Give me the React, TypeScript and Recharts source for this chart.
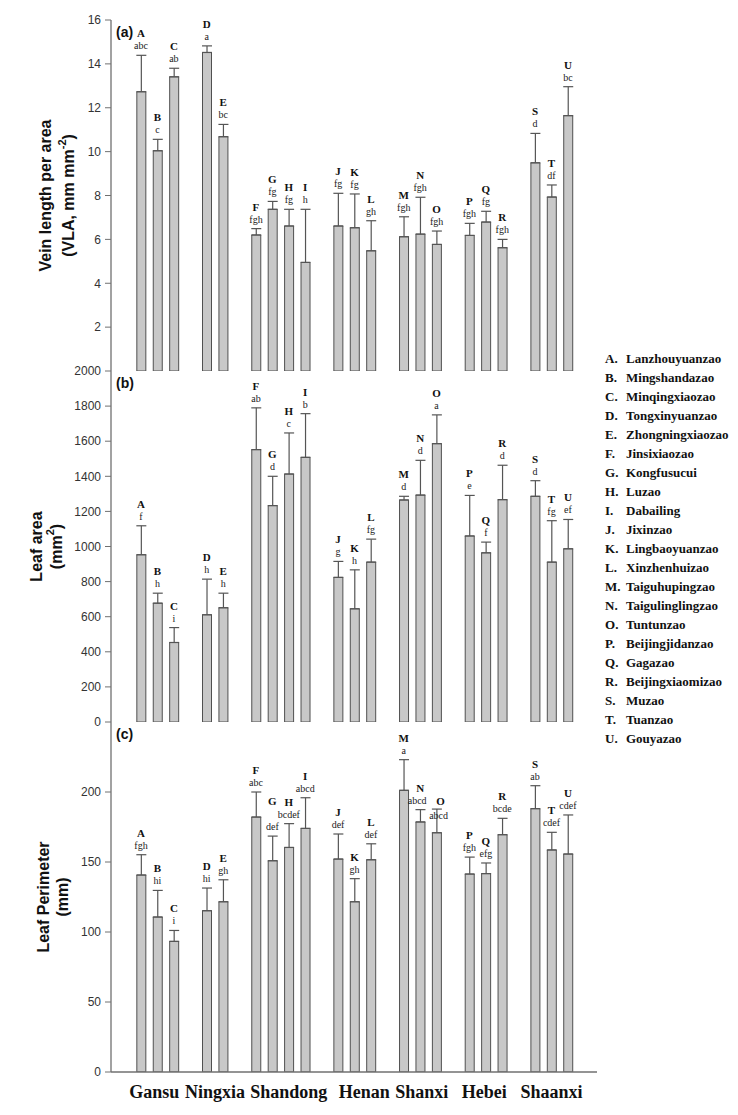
import React from 'react';
import { ComposedChart, Bar, ErrorBar, Scatter, XAxis, YAxis } from 'recharts';

// ---------- data ----------
const letters = ['A','B','C','D','E','F','G','H','I','J','K','L','M','N','O','P','Q','R','S','T','U'];
const cultivars = ['Lanzhouyuanzao','Mingshandazao','Minqingxiaozao','Tongxinyuanzao','Zhongningxiaozao','Jinsixiaozao','Kongfusucui','Luzao','Dabailing','Jixinzao','Lingbaoyuanzao','Xinzhenhuizao','Taiguhupingzao','Taigulinglingzao','Tuntunzao','Beijingjidanzao','Gagazao','Beijingxiaomizao','Muzao','Tuanzao','Gouyazao'];
const provinces = ['Gansu','Ningxia','Shandong','Henan','Shanxi','Hebei','Shaanxi'];
const groupSizes = [3, 2, 4, 3, 3, 3, 3];

const vla = [12.73, 10.04, 13.41, 14.52, 10.68, 6.20, 7.37, 6.61, 4.95, 6.61, 6.53, 5.48, 6.12, 6.24, 5.77, 6.18, 6.79, 5.62, 9.49, 7.93, 11.64];
const vlaErr = [1.66, 0.52, 0.39, 0.30, 0.56, 0.29, 0.36, 0.76, 2.42, 1.49, 1.54, 1.37, 0.91, 1.68, 0.61, 0.55, 0.49, 0.38, 1.34, 0.55, 1.32];
const vlaSig = ['abc','c','ab','a','bc','fgh','fg','fg','h','fg','fg','gh','fgh','fgh','fgh','fgh','fg','fgh','d','df','bc'];

const area = [953, 677, 453, 611, 651, 1552, 1233, 1413, 1508, 824, 645, 911, 1265, 1293, 1586, 1060, 964, 1267, 1286, 911, 987];
const areaErr = [165, 57, 85, 203, 83, 238, 167, 234, 249, 91, 222, 131, 21, 198, 164, 231, 61, 196, 89, 236, 167];
const areaSig = ['f','h','i','h','h','ab','d','c','b','g','h','fg','d','d','a','e','f','d','d','fg','ef'];

const perim = [140.7, 110.7, 93.3, 115.2, 121.6, 182.1, 150.9, 160.4, 174.0, 152.1, 121.6, 151.6, 201.2, 178.6, 170.9, 141.4, 141.7, 169.5, 188.1, 158.6, 155.7];
const perimErr = [14.5, 19.0, 7.8, 16.2, 15.7, 17.9, 17.6, 17.0, 21.9, 17.9, 16.5, 11.4, 21.9, 8.8, 16.9, 12.1, 7.6, 11.7, 16.4, 12.6, 27.9];
const perimSig = ['fgh','hi','i','hi','gh','abc','def','bcdef','abcd','def','gh','def','a','abcd','abcd','fgh','efg','bcde','ab','cdef','cdef'];

const vlaTicks = [2, 4, 6, 8, 10, 12, 14, 16];
const areaTicks = [0, 200, 400, 600, 800, 1000, 1200, 1400, 1600, 1800, 2000];
const perimTicks = [0, 50, 100, 150, 200];

// ---------- layout / style ----------
const SANS = '"Liberation Sans", Arial, sans-serif';
const SERIF = '"Liberation Serif", "Times New Roman", serif';
const AXIS = '#707070';
const X_DOMAIN = [-1.83, 27.77];
const labelNudge = [-0.2, 0, 0.5, 0.6, 0.1, -0.1, 0];

type Nudge = { ldx?: number; ldy?: number; sdx?: number; sdy?: number };
const perimLabelNudges: Record<string, Nudge> = {
  G: { ldy: -13 },
  N: { sdx: -3 },
  O: { ldx: 4, ldy: 14, sdx: 2, sdy: 16 },
};

// slot index of each bar: groups separated by one empty slot
const slotX: number[] = [];
{
  let s = 0;
  groupSizes.forEach((n) => {
    for (let i = 0; i < n; i++) slotX.push(s + i);
    s += n + 1;
  });
}
const groupTicks: number[] = [];
{
  let idx = 0;
  groupSizes.forEach((n, g) => {
    groupTicks.push((slotX[idx] + slotX[idx + n - 1]) / 2 + labelNudge[g]);
    idx += n;
  });
}

function buildRows(vals: number[], errs: number[], sigs: string[]) {
  return letters.map((l, i) => ({
    x: slotX[i],
    v: vals[i],
    err: [0, errs[i]],
    top: vals[i] + errs[i],
    letter: l,
    sig: sigs[i],
  }));
}

type Seg = { t: string; sup?: boolean };

const makeLabelShape = (nudges: Record<string, Nudge>) => (props: any) => {
  const { cx, cy, payload } = props;
  if (cx == null || cy == null) return <g />;
  const n = nudges[payload.letter] || {};
  return (
    <g>
      <text x={cx + (n.ldx || 0)} y={cy - 18 + (n.ldy || 0)} textAnchor="middle" fontFamily={SERIF} fontWeight="bold" fontSize={11} fill="#111">
        {payload.letter}
      </text>
      <text x={cx + (n.sdx || 0)} y={cy - 6 + (n.sdy || 0)} textAnchor="middle" fontFamily={SERIF} fontSize={10} fill="#222">
        {payload.sig}
      </text>
    </g>
  );
};

const GroupTick = (props: any) => {
  const { x, y, index } = props;
  return (
    <text x={x} y={y + 26} textAnchor="middle" fontFamily={SERIF} fontWeight="bold" fontSize={18} fill="#111">
      {provinces[index]}
    </text>
  );
};

function makeTitle(lines: Seg[][], xs: number[], tag: string) {
  return (props: any) => {
    const vb = props.viewBox || { x: 0, y: 0, width: 111, height: 350 };
    const cy = vb.y + vb.height / 2;
    return (
      <g>
        {lines.map((segs, i) => (
          <text
            key={i}
            x={xs[i]}
            y={cy}
            transform={`rotate(-90 ${xs[i]} ${cy})`}
            textAnchor="middle"
            dominantBaseline="central"
            fontFamily={SANS}
            fontWeight="bold"
            fontSize={16}
            fill="#111"
          >
            {segs.map((s, j) =>
              s.sup ? (
                <tspan key={j} dy={-6} fontSize={11}>{s.t}</tspan>
              ) : (
                <tspan key={j} dy={j > 0 && segs[j - 1].sup ? 6 : 0}>{s.t}</tspan>
              )
            )}
          </text>
        ))}
        <text x={vb.x + vb.width + 5} y={vb.y + 17} fontFamily={SANS} fontWeight="bold" fontSize={14} fill="#111">
          {tag}
        </text>
      </g>
    );
  };
}

type PanelProps = {
  rows: any[];
  yDomain: number[];
  yTicks: number[];
  title: Seg[][];
  titleX: number[];
  tag: string;
  top: number;
  marginTop: number;
  plotH: number;
  bottomSpace: number;
  showGroups: boolean;
  nudges?: Record<string, Nudge>;
};

function Panel(p: PanelProps) {
  const height = p.marginTop + p.plotH + p.bottomSpace;
  const shape = makeLabelShape(p.nudges || {});
  return (
    <div style={{ position: 'absolute', left: 0, top: p.top }}>
      <ComposedChart
        width={738}
        height={height}
        data={p.rows}
        margin={{ top: p.marginTop, right: 141, bottom: p.showGroups ? 0 : p.bottomSpace, left: 0 }}
      >
        <XAxis
          type="number"
          dataKey="x"
          domain={X_DOMAIN}
          allowDataOverflow
          ticks={p.showGroups ? groupTicks : []}
          interval={0}
          tick={p.showGroups ? <GroupTick /> : false}
          tickLine={false}
          tickSize={0}
          tickMargin={0}
          height={p.showGroups ? p.bottomSpace : 0}
          axisLine={{ stroke: AXIS, strokeWidth: 1.3 }}
        />
        <XAxis
          xAxisId="top"
          orientation="top"
          type="number"
          domain={X_DOMAIN}
          allowDataOverflow
          tick={false}
          tickLine={false}
          height={0}
          axisLine={{ stroke: AXIS, strokeWidth: 1.3 }}
        />
        <YAxis
          type="number"
          domain={p.yDomain}
          ticks={p.yTicks}
          interval={0}
          allowDataOverflow
          width={111}
          tickSize={6}
          tickMargin={4}
          tick={{ fontFamily: SANS, fontSize: 12, fill: '#333' }}
          tickLine={{ stroke: AXIS }}
          axisLine={{ stroke: AXIS, strokeWidth: 1.3 }}
          label={{ content: makeTitle(p.title, p.titleX, p.tag) }}
        />
        <YAxis
          yAxisId="right"
          orientation="right"
          type="number"
          domain={p.yDomain}
          allowDataOverflow
          tick={false}
          tickLine={false}
          width={0}
          axisLine={{ stroke: AXIS, strokeWidth: 1.3 }}
        />
        <Bar dataKey="v" barSize={9} fill="#c8c8c8" stroke="#505050" strokeWidth={1} isAnimationActive={false}>
          <ErrorBar dataKey="err" direction="y" width={5} stroke="#555" strokeWidth={1.2} />
        </Bar>
        <Scatter dataKey="top" shape={shape} isAnimationActive={false} />
      </ComposedChart>
    </div>
  );
}

export default function App() {
  return (
    <div style={{ position: 'absolute', left: 0, top: 0, width: 738, height: 1115, background: '#fff' }}>
      <Panel
        rows={buildRows(vla, vlaErr, vlaSig)}
        yDomain={[0, 16]}
        yTicks={vlaTicks}
        title={[[{ t: 'Vein length per area' }], [{ t: '(VLA, mm mm' }, { t: '-2', sup: true }, { t: ')' }]]}
        titleX={[45, 68]}
        tag="(a)"
        top={0}
        marginTop={20}
        plotH={351}
        bottomSpace={1}
        showGroups={false}
      />
      <Panel
        rows={buildRows(area, areaErr, areaSig)}
        yDomain={[0, 2000]}
        yTicks={areaTicks}
        title={[[{ t: 'Leaf area' }], [{ t: '(mm' }, { t: '2', sup: true }, { t: ')' }]]}
        titleX={[36, 56]}
        tag="(b)"
        top={355}
        marginTop={16}
        plotH={351}
        bottomSpace={10}
        showGroups={false}
      />
      <Panel
        rows={buildRows(perim, perimErr, perimSig)}
        yDomain={[0, 250]}
        yTicks={perimTicks}
        title={[[{ t: 'Leaf Perimeter' }], [{ t: '(mm)' }]]}
        titleX={[43, 62]}
        tag="(c)"
        top={700}
        marginTop={22}
        plotH={350}
        bottomSpace={43}
        showGroups={true}
        nudges={perimLabelNudges}
      />
      <div
        style={{
          position: 'absolute',
          left: 605,
          top: 348.5,
          fontFamily: SERIF,
          fontWeight: 'bold',
          fontSize: 13,
          lineHeight: '19px',
          color: '#111',
          whiteSpace: 'nowrap',
        }}
      >
        {letters.map((l, i) => (
          <div key={l}>
            <span style={{ display: 'inline-block', width: 21 }}>{l}.</span>
            {cultivars[i]}
          </div>
        ))}
      </div>
    </div>
  );
}
